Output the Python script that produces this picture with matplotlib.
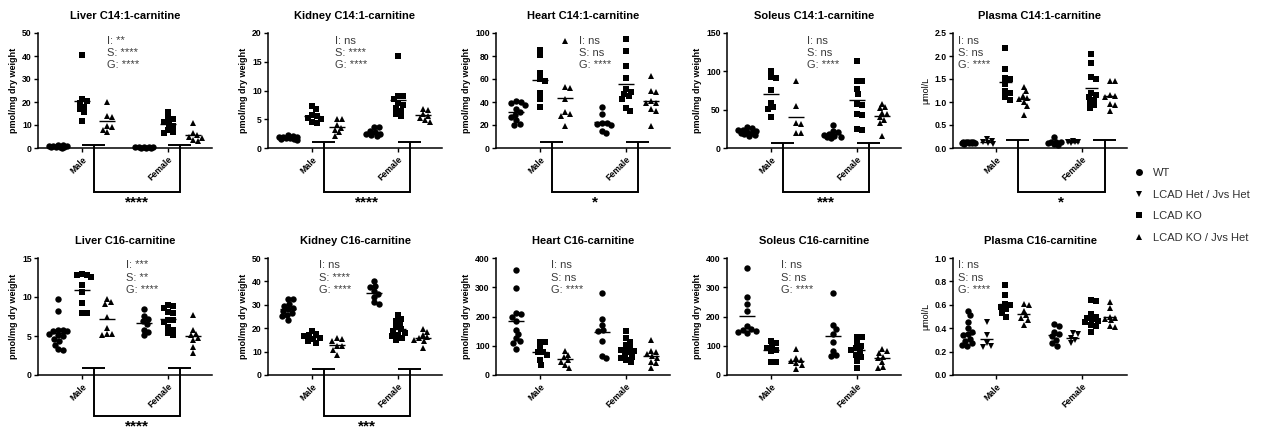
import numpy as np
import matplotlib
matplotlib.use("Agg")
import matplotlib.pyplot as plt
import matplotlib.transforms as mtransforms
from matplotlib.lines import Line2D

plt.rcParams['font.family'] = ['Liberation Sans', 'DejaVu Sans']

# ---------------- data ----------------
group_names = ['WT', 'LCAD Het / Jvs Het', 'LCAD KO', 'LCAD KO / Jvs Het']
group_markers = ['o', 'v', 's', '^']
sex_labels = ['Male', 'Female']

# Liver C14:1-carnitine (pmol/mg dry weight)
liver_c141_male = {'WT': [0.3, 0.5, 0.8, 1.0, 1.2, 0.4, 0.6, 1.5, 0.2, 0.7],
                   'KO': [40.4, 21.5, 20.5, 19.5, 18.0, 17.0, 15.5, 11.8],
                   'KOJ': [20, 14, 13.5, 9.5, 9, 8, 7]}
liver_c141_female = {'WT': [0.2, 0.3, 0.4, 0.5, 0.3, 0.2, 0.4, 0.1],
                     'KO': [15.7, 13, 12.5, 11.5, 10.5, 9.5, 8, 7, 6.5],
                     'KOJ': [11, 6.5, 5.5, 5, 4.5, 3.5, 3]}
# Kidney C14:1-carnitine
kidney_c141_male = {'WT': [1.5, 1.7, 1.9, 2.1, 2.2, 1.6, 1.8, 2.0, 1.4, 1.9],
                    'KO': [7.3, 6.7, 5.8, 5.6, 5.3, 5.0, 4.6, 4.3],
                    'KOJ': [5.1, 5.0, 4.0, 3.5, 3.2, 2.7, 2.1]}
kidney_c141_female = {'WT': [3.6, 3.6, 3.0, 2.7, 2.5, 2.3, 2.1, 2.4],
                      'KO': [16, 9, 9, 8.5, 7.8, 7.5, 7, 6.5, 6, 5.5],
                      'KOJ': [6.8, 6.6, 5.9, 5.6, 5.2, 4.9, 4.6]}
# Heart C14:1-carnitine
heart_c141_male = {'WT': [41, 40, 39, 37, 34, 31, 29, 27, 24, 21, 20],
                   'KO': [85.5, 81, 65, 60, 58, 48, 43, 36],
                   'KOJ': [92.8, 53, 52.5, 42.5, 31, 29.5, 28, 19.5]}
heart_c141_female = {'WT': [36, 30, 22, 22, 21, 20, 15, 13],
                     'KO': [94.8, 84, 71, 61, 51, 49, 47, 45, 43, 35, 32],
                     'KOJ': [62.5, 49.5, 48.5, 41, 39.5, 39, 33.5, 32, 19.5]}
# Soleus C14:1-carnitine
soleus_c141_male = {'WT': [28, 26, 24, 23, 22, 21, 20, 19, 18, 17, 16],
                    'KO': [100, 93, 91.5, 75.5, 59, 53, 50.5, 40],
                    'KOJ': [87, 55, 33, 31, 20, 20]}
soleus_c141_female = {'WT': [30, 22.5, 20.5, 18, 17, 16, 15, 14, 12.5],
                      'KO': [113, 87.5, 87, 76.5, 70, 57, 56, 44, 43.5, 25, 24],
                      'KOJ': [58, 53, 52, 46, 44, 40, 37, 33, 16]}
# Plasma C14:1-carnitine (umol/L)
plasma_c141_male = {'WT': [0.09, 0.10, 0.11, 0.12, 0.13, 0.14, 0.12, 0.11, 0.10, 0.13],
                    'HET': [0.19, 0.15, 0.12, 0.10, 0.08],
                    'KO': [2.17, 1.72, 1.52, 1.5, 1.4, 1.25, 1.2, 1.1, 1.05],
                    'KOJ': [1.33, 1.23, 1.14, 1.09, 1.06, 1.0, 0.91, 0.72]}
plasma_c141_female = {'WT': [0.24, 0.14, 0.12, 0.10, 0.08, 0.06, 0.12],
                      'HET': [0.16, 0.14, 0.12, 0.13, 0.10],
                      'KO': [2.05, 1.85, 1.55, 1.5, 1.2, 1.15, 1.1, 1.05, 0.98, 0.93, 0.87],
                      'KOJ': [1.46, 1.45, 1.15, 1.12, 1.1, 0.95, 0.94, 0.8]}
# Liver C16-carnitine
liver_c16_male = {'WT': [9.7, 8.2, 5.8, 5.75, 5.7, 5.6, 5.3, 5.1, 5.0, 4.6, 4.3, 3.85, 3.3, 3.25],
                  'KO': [12.9, 12.8, 12.8, 12.6, 11.6, 10.7, 9.2, 7.9, 7.9],
                  'KOJ': [9.7, 9.3, 9.1, 7.4, 6.0, 5.2, 5.1, 5.2]}
liver_c16_female = {'WT': [8.5, 7.6, 7.2, 6.9, 6.5, 5.8, 5.5, 5.1],
                    'KO': [9.0, 8.9, 8.6, 8.1, 7.9, 7.1, 7.0, 6.8, 6.1, 5.8, 5.4, 5.1],
                    'KOJ': [7.7, 5.8, 5.3, 5.1, 4.7, 4.5, 3.6, 2.8]}
# Kidney C16-carnitine
kidney_c16_male = {'WT': [32.4, 32.3, 30.3, 29.5, 28.8, 28.1, 27.4, 26.7, 25.6, 25.2, 23.3],
                   'KO': [19, 17.5, 17.2, 16.6, 16, 15.5, 14.7, 13.7],
                   'KOJ': [15.6, 15.5, 14.4, 12.5, 12.2, 10.8, 8.6]}
kidney_c16_female = {'WT': [40.3, 38.2, 37.5, 35.7, 34.5, 33.4, 31, 30.3],
                     'KO': [25.6, 23.8, 23, 21.6, 20.5, 19.5, 18.7, 18, 17, 16.6, 15.6, 15.1],
                     'KOJ': [19.5, 18.4, 17.3, 16.1, 15.6, 15.1, 14.4, 11.5]}
# Heart C16-carnitine
heart_c16_male = {'WT': [360, 297, 213, 208, 200, 184, 155, 140, 125, 115, 110, 90],
                  'KO': [113, 112, 95, 80, 78, 69, 52, 35],
                  'KOJ': [83, 70, 60, 52, 46, 35, 25]}
heart_c16_female = {'WT': [282, 190, 172, 155, 150, 115, 66, 58],
                    'KO': [150, 125, 113, 104, 95, 86, 84, 83, 78, 69, 63, 58, 52, 46],
                    'KOJ': [121, 83, 78, 71, 64, 58, 46, 40, 25]}
# Soleus C16-carnitine
soleus_c16_male = {'WT': [365, 265, 242, 219, 167, 156, 155, 150, 148, 144],
                   'KO': [115, 110, 98, 92, 86, 81, 46, 46],
                   'KOJ': [89, 58, 52, 48, 40, 35, 21]}
soleus_c16_female = {'WT': [280, 170, 156, 140, 112, 83, 69, 66],
                     'KO': [130, 130, 110, 98, 92, 86, 81, 69, 63, 48, 25],
                     'KOJ': [89, 83, 75, 63, 58, 46, 29, 25]}
# Plasma C16-carnitine
plasma_c16_male = {'WT': [0.55, 0.51, 0.45, 0.40, 0.37, 0.35, 0.34, 0.31, 0.29, 0.27, 0.26, 0.25],
                   'HET': [0.45, 0.34, 0.27, 0.25, 0.24],
                   'KO': [0.77, 0.68, 0.61, 0.6, 0.58, 0.56, 0.53, 0.5],
                   'KOJ': [0.61, 0.6, 0.55, 0.51, 0.49, 0.47, 0.43]}
plasma_c16_female = {'WT': [0.44, 0.42, 0.37, 0.35, 0.33, 0.30, 0.27, 0.25],
                     'HET': [0.36, 0.35, 0.32, 0.30, 0.27],
                     'KO': [0.64, 0.63, 0.52, 0.5, 0.49, 0.48, 0.46, 0.45, 0.43, 0.42, 0.37],
                     'KOJ': [0.62, 0.57, 0.5, 0.49, 0.48, 0.47, 0.42, 0.41]}

titles = ['Liver C14:1-carnitine', 'Kidney C14:1-carnitine', 'Heart C14:1-carnitine',
          'Soleus C14:1-carnitine', 'Plasma C14:1-carnitine',
          'Liver C16-carnitine', 'Kidney C16-carnitine', 'Heart C16-carnitine',
          'Soleus C16-carnitine', 'Plasma C16-carnitine']
panel_data = [(liver_c141_male, liver_c141_female), (kidney_c141_male, kidney_c141_female),
              (heart_c141_male, heart_c141_female), (soleus_c141_male, soleus_c141_female),
              (plasma_c141_male, plasma_c141_female),
              (liver_c16_male, liver_c16_female), (kidney_c16_male, kidney_c16_female),
              (heart_c16_male, heart_c16_female), (soleus_c16_male, soleus_c16_female),
              (plasma_c16_male, plasma_c16_female)]
y_max = [50, 20, 100, 150, 2.5, 15, 50, 400, 400, 1.0]
y_step = [10, 5, 20, 50, 0.5, 5, 10, 100, 100, 0.2]
stats_I = ['**', 'ns', 'ns', 'ns', 'ns', '***', 'ns', 'ns', 'ns', 'ns']
stats_S = ['****', '****', 'ns', 'ns', 'ns', '**', '****', 'ns', 'ns', 'ns']
stats_G = ['****'] * 10
bracket_stars = ['****', '****', '*', '***', '*', '****', '***', None, None, None]
bracket_level = [1.5, 1.1, 5, 6, 0.18, 0.9, 2.5, None, None, None]

# ---------------- layout (pixel based) ----------------
W, H = 1268, 432
fig = plt.figure(figsize=(W / 100, H / 100), dpi=100)
col_left = [38, 268, 496, 727, 953]
row_top = [33, 258]
row_h = [115, 117]
ax_w = 174
stats_x = [69, 67, 83, 80, 5, 88, 51, 55, 54, 5]


def swarm_offsets(vals, px_per_val, d=5.0, maxw=8.0):
    vals = np.asarray(vals, float)
    order = np.argsort(-vals)
    placed = []
    xs = np.zeros(len(vals))
    cands = [0.0]
    k = 1
    while k * 0.5 <= maxw:
        cands += [k * 0.5, -k * 0.5]
        k += 1
    for i in order:
        y = vals[i] * px_per_val
        best, bestd = 0.0, -1
        chosen = None
        for c in cands:
            md = min([np.hypot(c - px, y - py) for px, py in placed] or [1e9])
            if md >= d:
                chosen = c
                break
            if md > bestd:
                best, bestd = c, md
        if chosen is None:
            chosen = best
        placed.append((chosen, y))
        xs[i] = chosen
    return xs


gray = '#3c3c3c'
for p in range(10):
    r, c = divmod(p, 5)
    left = col_left[c] / W
    bottom = 1 - (row_top[r] + row_h[r]) / H
    ax = fig.add_axes([left, bottom, ax_w / W, row_h[r] / H])
    plasma = (c == 4)
    ymax = y_max[p]
    ax.set_xlim(0, ax_w)
    ax.set_ylim(0, ymax)
    px_per_val = row_h[r] / ymax
    if plasma:
        centers, spacing, keys, mks = [43, 129], 18.5, ['WT', 'HET', 'KO', 'KOJ'], group_markers
        half, maxw = 6.5, 6.5
    else:
        centers, spacing, keys, mks = [44, 130], 24.5, ['WT', 'KO', 'KOJ'], ['o', 's', '^']
        half, maxw = 8, 9.0
    n = len(keys)
    for s, sexdata in enumerate(panel_data[p]):
        for g, key in enumerate(keys):
            xg = centers[s] + (g - (n - 1) / 2) * spacing
            vals = np.asarray(sexdata[key], float)
            xo = swarm_offsets(vals, px_per_val, maxw=maxw)
            ms = 4.2 if mks[g] == 's' else 4.6
            ax.plot(xg + xo, vals, ls='none', marker=mks[g], color='black', ms=ms,
                    mew=0, clip_on=False, zorder=3)
            ax.plot([xg - half, xg + half], [vals.mean()] * 2, color='black', lw=1.0,
                    solid_capstyle='butt', zorder=4)
    # axes styling
    for sp in ['top', 'right']:
        ax.spines[sp].set_visible(False)
    for sp in ['left', 'bottom']:
        ax.spines[sp].set_linewidth(1.1)
    ticks = np.arange(0, ymax + y_step[p] / 2, y_step[p])
    ax.set_yticks(ticks)
    if plasma:
        ax.set_yticklabels(['%.1f' % v for v in ticks])
    else:
        ax.set_yticklabels(['%d' % round(v) for v in ticks])
    ax.tick_params(axis='y', length=3, width=1.0, pad=1.5, labelsize=6.2)
    for lab in ax.get_yticklabels():
        lab.set_fontweight('bold')
    ax.set_xticks(centers)
    ax.set_xticklabels(sex_labels, rotation=45, ha='right', va='top',
                       rotation_mode='anchor', fontsize=6.3, fontweight='bold')
    ax.tick_params(axis='x', length=3, width=1.0, pad=2)
    if plasma:
        ax.set_ylabel('\u03bcmol/L', fontsize=6.5, labelpad=3)
    else:
        ax.set_ylabel('pmol/mg dry weight', fontsize=6.5, fontweight='bold', labelpad=3)
    ax.set_title(titles[p], fontsize=8, fontweight='bold', pad=10)
    # stats text
    blend = mtransforms.blended_transform_factory(ax.transData, ax.transAxes)
    for k, (lbl, val) in enumerate(zip(['I', 'S', 'G'], [stats_I[p], stats_S[p], stats_G[p]])):
        ax.annotate('%s: %s' % (lbl, val), xy=(stats_x[p], 1), xycoords=blend,
                    xytext=(0, -(7.5 + 12.3 * k) * 0.72), textcoords='offset points',
                    ha='left', va='center', fontsize=8, color=gray)
    # bracket
    if bracket_stars[p] is not None:
        yf = bracket_level[p] / ymax
        ybot = -0.38 if r == 0 else -0.35
        if plasma:
            m0, m1, f0, f1 = 53, 76, 140, 163
        else:
            m0, m1, f0, f1 = 44, 67, 130, 153
        mv, fv = (m0 + m1) / 2, (f0 + f1) / 2
        kw = dict(color='black', lw=1.4, clip_on=False, transform=blend, zorder=5,
                  solid_capstyle='butt')
        ax.plot([m0, m1], [yf, yf], **kw)
        ax.plot([f0, f1], [yf, yf], **kw)
        ax.plot([mv, mv, fv, fv], [yf, ybot, ybot, yf], solid_joinstyle='miter', **kw)
        ax.text((mv + fv) / 2, ybot - 0.09, bracket_stars[p], transform=blend,
                ha='center', va='center', fontsize=11, fontweight='bold')

# legend
handles = [Line2D([], [], ls='none', marker=m, color='black', ms=5, mew=0) for m in group_markers]
fig.legend(handles, group_names, loc='upper left', bbox_to_anchor=(1134 / W, 1 - 168 / H),
           frameon=False, fontsize=8, handlelength=0.9, handletextpad=0.85,
           labelspacing=1.05, borderpad=0, borderaxespad=0, labelcolor='#303030')

fig.savefig('out.png', dpi=100)
